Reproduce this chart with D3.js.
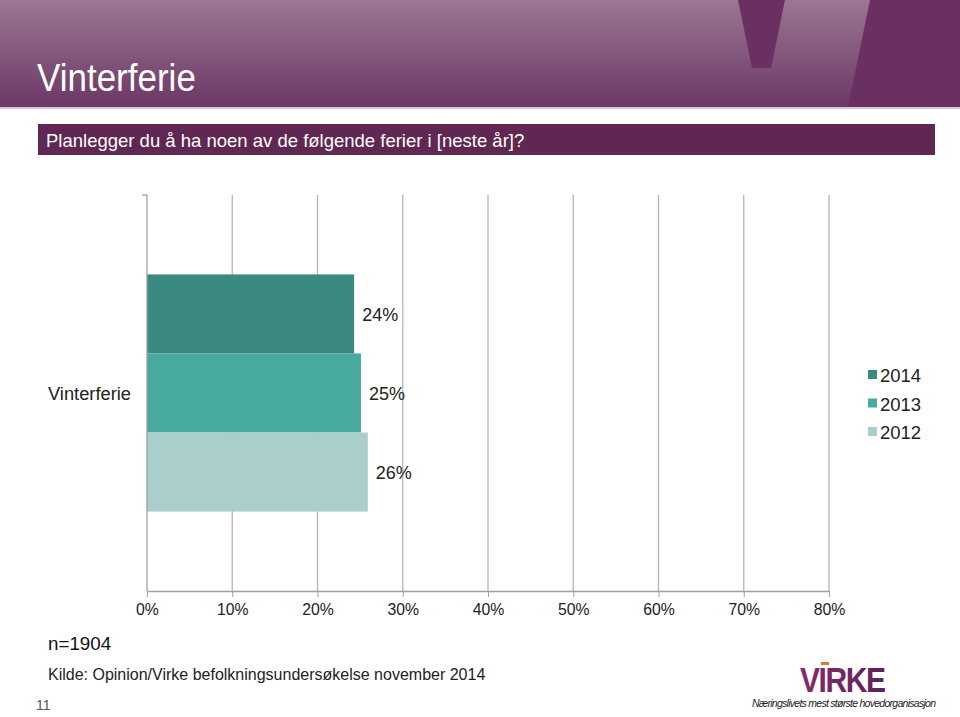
<!DOCTYPE html>
<html><head><meta charset="utf-8">
<script src="https://cdn.jsdelivr.net/npm/d3@7"></script>
<style>body{margin:0;background:#fff;}svg{display:block;font-family:"Liberation Sans",Arial,sans-serif;}</style>
</head><body>
<script>
const categories = ["Vinterferie"];
const series = ["2014","2013","2012"];
const values2014 = [24.3];
const values2013 = [25.1];
const values2012 = [25.9];
const labels = ["24%","25%","26%"];
const tickValues = [0,10,20,30,40,50,60,70,80];
const colors = ["#3a8a80","#48aa9e","#a9cecb"];

(function(){
const W=960,H=717;
const svg=d3.select("body").append("svg").attr("width",W).attr("height",H);
const defs=svg.append("defs");
const g1=defs.append("linearGradient").attr("id","hdr").attr("x1",0).attr("y1",0).attr("x2",0).attr("y2",1);
g1.append("stop").attr("offset",0).attr("stop-color","#9c7792");
g1.append("stop").attr("offset",1).attr("stop-color","#6c3766");
svg.append("rect").attr("x",0).attr("y",0).attr("width",W).attr("height",107).attr("fill","url(#hdr)");
svg.append("rect").attr("x",0).attr("y",107).attr("width",W).attr("height",2).attr("fill","#d9c6d4");
svg.append("path").attr("d","M738,0 L785,0 L771,68 L752,68 Z").attr("fill","#6a3062");
svg.append("path").attr("d","M870,0 L960,0 L960,107 L848,107 Z").attr("fill","#6a3062");
svg.append("text").attr("transform","translate(37,91) scale(1,1.1)").attr("fill","#fff").attr("font-size",35).text("Vinterferie");
svg.append("rect").attr("x",38).attr("y",124).attr("width",897).attr("height",31).attr("fill","#5f2752");
svg.append("text").attr("x",46).attr("y",147).attr("fill","#fff").attr("font-size",18.5).text("Planlegger du å ha noen av de følgende ferier i [neste år]?");

const x=d3.scaleLinear().domain([0,80]).range([147,829]);
const plotTop=195,plotBottom=591;
const y=d3.scaleBand().domain(categories).range([plotTop,plotBottom]).paddingInner(0).paddingOuter(0.335);
const y2=d3.scaleBand().domain(series).range([0,y.bandwidth()]);

svg.append("g").selectAll("line").data(tickValues.slice(1)).join("line")
 .attr("x1",d=>x(d)).attr("x2",d=>x(d)).attr("y1",plotTop).attr("y2",plotBottom)
 .attr("stroke","#b5b5b5").attr("stroke-width",1.3);

const data=[values2014,values2013,values2012];
const cg=svg.append("g");
categories.forEach((c,i)=>{
  series.forEach((s,j)=>{
    const v=data[j][i];
    cg.append("rect").attr("x",x(0)).attr("y",y(c)+y2(s)).attr("width",x(v)-x(0)).attr("height",y2.bandwidth()).attr("fill",colors[j]);
    cg.append("text").attr("x",x(v)+8).attr("y",y(c)+y2(s)+y2.bandwidth()/2+7).attr("font-size",18).attr("fill","#222").text(labels[j]);
  });
  svg.append("text").attr("x",131).attr("y",y(c)+y.bandwidth()/2+7).attr("text-anchor","end").attr("font-size",18.3).attr("fill","#222").text(c);
});

const ax=svg.append("g").attr("transform",`translate(0,${plotBottom})`)
 .call(d3.axisBottom(x).tickValues(tickValues).tickFormat(d=>d+"%").tickSize(6).tickSizeOuter(0));
ax.select(".domain").attr("stroke","#a0a0a0").attr("stroke-width",1.3);
ax.selectAll(".tick line").attr("stroke","#a0a0a0");
ax.selectAll(".tick text").attr("font-size",15.8).attr("fill","#222").attr("dy","0.95em").attr("font-family","Liberation Sans, Arial, sans-serif");
svg.append("line").attr("x1",147).attr("x2",147).attr("y1",plotTop).attr("y2",plotBottom).attr("stroke","#a0a0a0").attr("stroke-width",1.3);
svg.append("line").attr("x1",142).attr("x2",147).attr("y1",plotTop).attr("y2",plotTop).attr("stroke","#a0a0a0").attr("stroke-width",1.3);

const lg=svg.append("g");
series.forEach((s,j)=>{
  lg.append("rect").attr("x",868).attr("y",370+j*28.5).attr("width",9).attr("height",9).attr("fill",colors[j]);
  lg.append("text").attr("x",880).attr("y",382+j*28.5).attr("font-size",18.5).attr("fill","#222").text(s);
});

svg.append("text").attr("x",48).attr("y",650).attr("font-size",18.8).attr("fill","#111").text("n=1904");
svg.append("text").attr("x",48).attr("y",680).attr("font-size",16).attr("fill","#222").text("Kilde: Opinion/Virke befolkningsundersøkelse november 2014");
svg.append("text").attr("x",36).attr("y",710).attr("font-size",14).attr("fill","#555").text("11");

const g2=defs.append("linearGradient").attr("id","lg").attr("x1",0).attr("y1",0).attr("x2",1).attr("y2",0);
g2.append("stop").attr("offset",0).attr("stop-color","#8a2a6a");
g2.append("stop").attr("offset",1).attr("stop-color","#5a2358");
svg.append("text").attr("transform","translate(800,692) scale(1,1.15)").attr("font-size",30).attr("font-weight","bold").attr("fill","url(#lg)").attr("textLength",86).text("VIRKE");
svg.append("rect").attr("x",821).attr("y",662).attr("width",8).attr("height",3).attr("fill","#e07a2a");
svg.append("text").attr("x",752).attr("y",707).attr("font-size",10.5).attr("font-style","italic").attr("fill","#222").attr("textLength",184).text("Næringslivets mest største hovedorganisasjon");
})();
</script>
</body></html>
